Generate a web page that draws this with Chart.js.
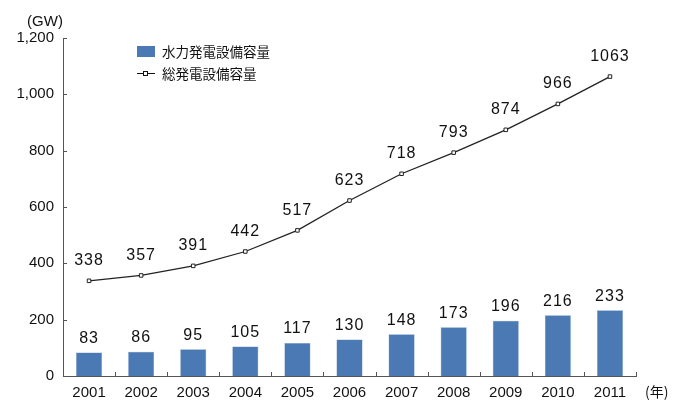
<!DOCTYPE html>
<html>
<head>
<meta charset="utf-8">
<script src="https://cdn.jsdelivr.net/npm/chart.js@4"></script>
<style>
  html, body { margin: 0; padding: 0; background: #fff; }
  #wrap { width: 680px; height: 415px; position: relative; }
</style>
</head>
<body>
<div id="wrap"><canvas id="myChart"></canvas></div>
<script>
const years = ['2001', '2002', '2003', '2004', '2005', '2006', '2007', '2008', '2009', '2010', '2011'];
const hydro = [83, 86, 95, 105, 117, 130, 148, 173, 196, 216, 233];
const total = [338, 357, 391, 442, 517, 623, 718, 793, 874, 966, 1063];
const seriesNames = ['水力発電設備容量', '総発電設備容量'];
const yUnit = '(GW)';
const xUnit = '(年)';

const NUMFONT = "'Liberation Sans', Arial, sans-serif";
const JPFONT = "'Noto Sans CJK JP', sans-serif";
const BLUE = '#4a79b3';
const AXIS = '#555';

// value labels, legend, units and little tick marks
const decorations = {
  id: 'decorations',
  afterDatasetsDraw(chart) {
    const {ctx, chartArea: {top, bottom, left, right}, scales: {x, y}} = chart;
    ctx.save();

    // tick marks
    ctx.strokeStyle = AXIS;
    ctx.lineWidth = 1;
    y.ticks.forEach(t => {
      const py = Math.round(y.getPixelForValue(t.value)) + 0.5;
      ctx.beginPath();
      ctx.moveTo(left, py);
      ctx.lineTo(left + 4, py);
      ctx.stroke();
    });
    const half = (x.getPixelForValue(1) - x.getPixelForValue(0)) / 2;
    for (let i = 1; i <= years.length; i++) {
      const px = Math.round(x.getPixelForValue(i) - half) + 0.5;
      ctx.beginPath();
      ctx.moveTo(px, bottom);
      ctx.lineTo(px, bottom - 4);
      ctx.stroke();
    }

    // value labels
    ctx.fillStyle = '#111';
    ctx.font = '16px ' + NUMFONT;
    ctx.letterSpacing = '1px';
    ctx.textAlign = 'center';
    ctx.textBaseline = 'middle';
    chart.data.datasets.forEach((ds, di) => {
      const off = ds.type === 'bar' ? 14 : 20;
      chart.getDatasetMeta(di).data.forEach((el, i) => {
        ctx.fillText(String(ds.data[i]), el.x, el.y - off);
      });
    });
    ctx.letterSpacing = '0px';

    // units
    ctx.font = '15px ' + NUMFONT;
    ctx.fillText(yUnit, 45, 22);
    ctx.font = '14px ' + JPFONT;
    ctx.textAlign = 'left';
    ctx.fillText(xUnit, right + 9, bottom + 16);

    // legend
    ctx.font = '13.5px ' + JPFONT;
    ctx.fillStyle = BLUE;
    ctx.fillRect(137, 46, 18, 11);
    ctx.fillStyle = '#111';
    ctx.fillText(seriesNames[0], 162, 52);
    ctx.strokeStyle = '#111';
    ctx.beginPath();
    ctx.moveTo(137, 73.5);
    ctx.lineTo(155, 73.5);
    ctx.stroke();
    ctx.fillStyle = '#fff';
    ctx.fillRect(143.5, 71.5, 4, 4);
    ctx.strokeRect(143.5, 71.5, 4, 4);
    ctx.fillStyle = '#111';
    ctx.fillText(seriesNames[1], 162, 74);

    ctx.restore();
  }
};

const data = {
  labels: years,
  datasets: [{
    type: 'line',
    label: seriesNames[1],
    data: total,
    borderColor: '#222',
    borderWidth: 1.3,
    pointStyle: 'rect',
    pointRadius: 2.5,
    pointBackgroundColor: '#fff',
    pointBorderColor: '#222',
    pointBorderWidth: 1,
    tension: 0,
    order: 0
  }, {
    type: 'bar',
    label: seriesNames[0],
    data: hydro,
    backgroundColor: BLUE,
    borderColor: '#6f97c6',
    borderWidth: 0.5,
    barPercentage: 0.5,
    categoryPercentage: 1,
    order: 1
  }]
};

const config = {
  data,
  options: {
    responsive: false,
    animation: false,
    layout: { padding: { top: 38, right: 44, bottom: 0, left: 0 } },
    scales: {
      x: {
        grid: { display: false },
        border: { color: AXIS, width: 1 },
        ticks: { color: '#111', font: { family: NUMFONT, size: 15 }, padding: 0, maxRotation: 0 },
        afterFit(s) { s.height = 39; }
      },
      y: {
        min: 0,
        max: 1200,
        grid: { display: false },
        border: { color: AXIS, width: 1 },
        ticks: {
          stepSize: 200,
          color: '#111',
          font: { family: NUMFONT, size: 15 },
          padding: 1,
          callback: v => v.toLocaleString('en-US')
        },
        afterFit(s) { s.width = 63; }
      }
    },
    plugins: {
      legend: { display: false },
      tooltip: { enabled: false }
    }
  },
  plugins: [decorations]
};

const canvas = document.getElementById('myChart');
canvas.width = 680;
canvas.height = 415;
const myChart = new Chart(canvas, config);
</script>
</body>
</html>
